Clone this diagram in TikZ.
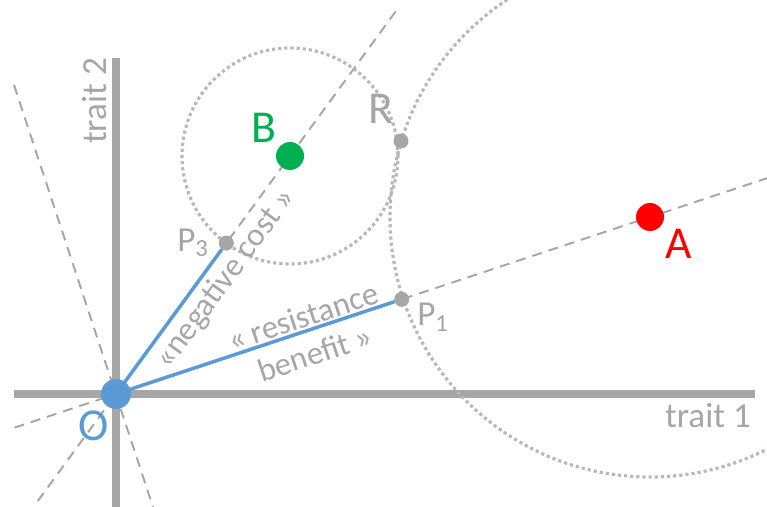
\documentclass[tikz,border=0pt]{standalone}
\usepackage{fontspec}
\setmainfont{Carlito}
\usetikzlibrary{calc}
\definecolor{axisgray}{HTML}{A6A6A6}
\definecolor{ringgray}{HTML}{B8B8B8}
\definecolor{oblue}{HTML}{5B9BD5}
\definecolor{bgreen}{HTML}{00B050}
\definecolor{ared}{HTML}{FF0000}
\tikzset{
    axis/.style={axisgray, line width=4.5pt},
    guide/.style={axisgray, line width=1.1pt, dash pattern=on 5.7pt off 4pt},
    ring/.style={ringgray, line width=1.8pt, dash pattern=on 1.8pt off 1.7pt},
    vec/.style={oblue, line width=2pt},
    spot/.style={circle, fill=axisgray, inner sep=0pt, minimum size=0.3cm},
    bigspot/.style={circle, inner sep=0pt, minimum size=0.56cm},
    lbl/.style={text=axisgray, font=\fontsize{20}{24}\selectfont},
    pathlbl/.style={text=axisgray, font=\fontsize{18.5}{22}\selectfont, align=center},
    letter/.style={font=\fontsize{26}{30}\selectfont},
}
\begin{document}
\begin{tikzpicture}[x=2cm,y=2cm]
    \useasboundingbox (-1.16,-1.13) rectangle (6.51,3.94);
    \clip (-1.16,-1.13) rectangle (6.51,3.94);
    \coordinate (O) at (0,0);
    \coordinate (A) at (5.34,1.77);
    \coordinate (B) at (1.74,2.38);
    \coordinate (P1) at ($(O)!0.535!(A)$);
    \coordinate (P3) at ($(O)!0.634!(B)$);
    \coordinate (R) at (2.85,2.53);
    % axes
    \draw[axis] (-1.02,0) -- (6.39,0);
    \draw[axis] (0,-1.13) -- (0,3.36);
    % directions through O
    \draw[guide] ($(O)!-0.19!(A)$) -- ($(O)!1.22!(A)$);
    \draw[guide] ($(O)!-0.45!(B)$) -- ($(O)!1.62!(B)$);
    \draw[guide] (-1.02,3.09) -- (0.37,-1.13);
    % distance circles
    \draw[ring] (B) circle (1.08);
    \draw[ring] (A) circle (2.60);
    % points
    \node[spot] (p1) at (P1) {};
    \node[spot] (p3) at (P3) {};
    \node[spot] (r) at (R) {};
    \draw[vec] (O) -- (p1);
    \draw[vec] (O) -- (p3);
    \node[bigspot, fill=oblue, minimum size=0.6cm] (o) at (O) {};
    \node[bigspot, fill=ared] (a) at (A) {};
    \node[bigspot, fill=bgreen] (b) at (B) {};
    % labels
    \node[lbl, rotate=90] at (-0.21,2.93) {trait 2};
    \node[lbl] at (5.92,-0.22) {trait 1};
    \node[letter, text=oblue] at (-0.225,-0.315) {O};
    \node[letter, text=ared] at (5.625,1.50) {A};
    \node[letter, text=bgreen] at (1.48,2.66) {B};
    \node[letter, text=axisgray] at (2.645,2.85) {R};
    \node[lbl] at (0.77,1.51) {P\textsubscript{3}};
    \node[lbl] at (3.17,0.77) {P\textsubscript{1}};
    \node[pathlbl, rotate=53.8] at (1.10,1.15) {«negative cost »};
    \node[pathlbl, rotate=18.3] at (1.93,0.59) {« resistance\\benefit »};
\end{tikzpicture}
\end{document}
